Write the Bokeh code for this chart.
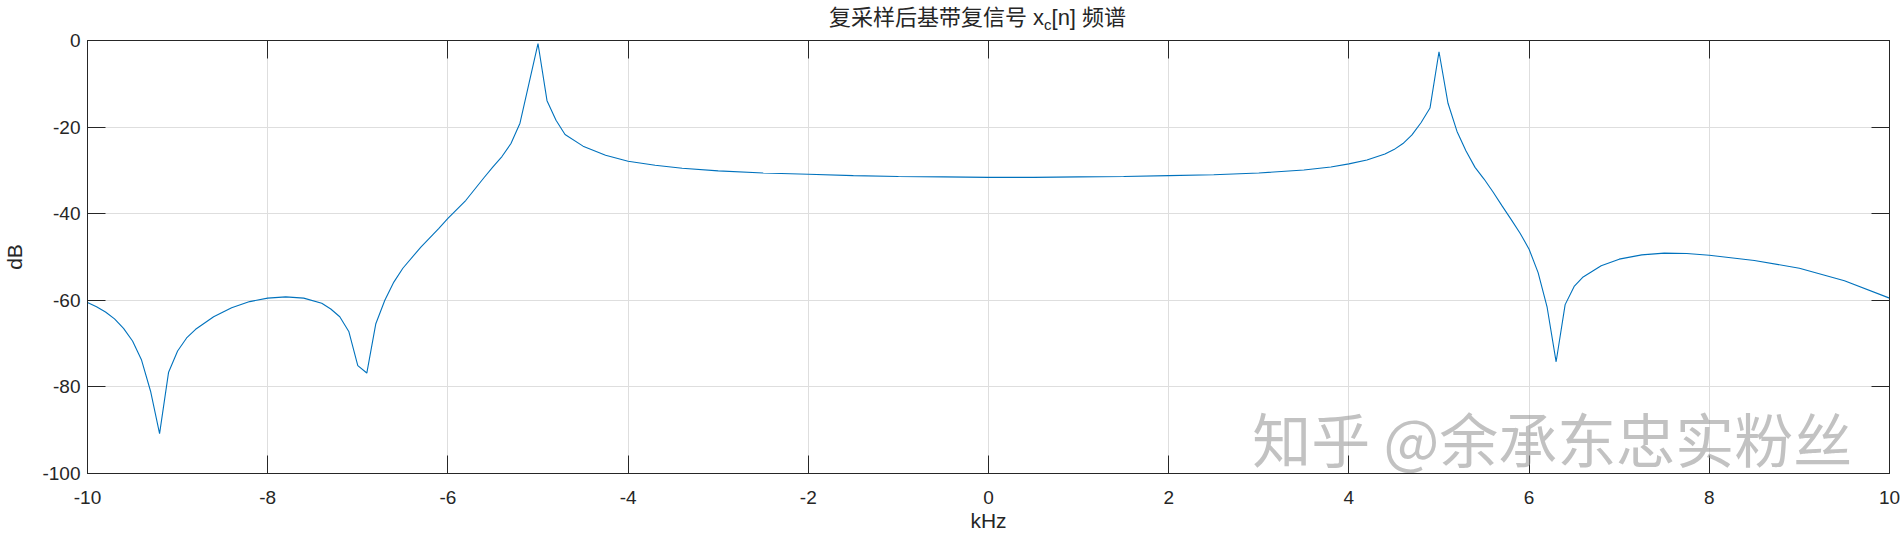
from bokeh.plotting import figure
from bokeh.models import Range1d, LinearAxis, FixedTicker, Label, Div
from bokeh.layouts import column
from bokeh.embed import file_html
from bokeh.resources import INLINE

# ---- data ----
f_khz = [-10.0, -9.9, -9.8, -9.7, -9.6, -9.5, -9.4, -9.3, -9.2, -9.1, -9.0, -8.9, -8.8,
         -8.6, -8.4, -8.2, -8.0, -7.8, -7.6, -7.4, -7.3, -7.2, -7.1, -7.0, -6.9, -6.8,
         -6.7, -6.6, -6.5, -6.3, -6.1, -6.0, -5.8, -5.6, -5.5, -5.4, -5.3, -5.2, -5.1,
         -5.0, -4.9, -4.8, -4.7, -4.5, -4.25, -4.0, -3.7, -3.4, -3.0, -2.5, -2.0, -1.5,
         -1.0, -0.5, 0.0, 0.5, 1.0, 1.5, 2.0, 2.5, 3.0, 3.5, 3.8, 4.0, 4.2, 4.4, 4.5,
         4.6, 4.7, 4.8, 4.9, 5.0, 5.1, 5.2, 5.3, 5.4, 5.5, 5.6, 5.7, 5.8, 5.9, 6.0,
         6.1, 6.2, 6.3, 6.4, 6.5, 6.6, 6.8, 7.0, 7.25, 7.5, 7.75, 8.0, 8.5, 9.0, 9.5, 10.0]
mag_db = [-60.5, -61.5, -62.7, -64.3, -66.5, -69.4, -73.8, -81.0, -90.8, -76.6, -71.7, -68.7, -66.7,
          -63.8, -61.7, -60.3, -59.5, -59.2, -59.5, -60.7, -62.0, -63.8, -67.2, -75.1, -76.8, -65.4,
          -60.0, -55.8, -52.6, -47.7, -43.4, -41.1, -36.9, -31.7, -29.2, -26.8, -23.8, -19.1, -9.9,
          -0.7, -13.9, -18.4, -21.7, -24.4, -26.5, -27.9, -28.8, -29.5, -30.1, -30.6, -30.9, -31.2,
          -31.4, -31.5, -31.6, -31.6, -31.5, -31.4, -31.2, -31.0, -30.6, -29.9, -29.2, -28.5, -27.6, -26.2, -25.2,
          -23.8, -21.8, -19.0, -15.6, -2.6, -14.5, -21.0, -25.5, -29.3, -32.0, -35.0, -38.2, -41.3, -44.5, -48.2,
          -53.6, -61.6, -74.2, -61.0, -56.8, -54.6, -52.0, -50.5, -49.5, -49.1, -49.2, -49.6, -50.8, -52.6, -55.5, -59.5]

x_ticks = [-10, -8, -6, -4, -2, 0, 2, 4, 6, 8, 10]
x_tick_labels = ["-10", "-8", "-6", "-4", "-2", "0", "2", "4", "6", "8", "10"]
y_ticks = [-100, -80, -60, -40, -20, 0]
y_tick_labels = ["-100", "-80", "-60", "-40", "-20", "0"]

title_cn = "复采样后基带复信号"
title_var = "x"
title_sub = "c"
title_idx = "[n]"
title_tail = "频谱"
x_label = "kHz"
y_label = "dB"
watermark = "知乎  @余承东忠实粉丝"

AX = "#262626"
LATIN = "Liberation Sans"
CJK = "Noto Sans CJK SC"

title_html = (
    f'<div style="position:relative; top:0px; width:1819px; margin-left:68px; text-align:center; '
    f'font-size:22px; line-height:30px; color:{AX}; white-space:nowrap;">'
    f'<span style="font-family:\'{CJK}\';">{title_cn}</span> '
    f'<span style="font-family:\'{LATIN}\';">{title_var}<span style="font-size:15px; position:relative; top:5px;">{title_sub}</span>{title_idx}</span> '
    f'<span style="font-family:\'{CJK}\';">{title_tail}</span></div>'
)
title_div = Div(text=title_html, width=1903, height=30, margin=(0, 0, 0, 0))

p = figure(width=1903, height=505,
           x_range=Range1d(-10, 10), y_range=Range1d(-100, 0),
           output_backend="svg", toolbar_location=None,
           min_border_left=82, min_border_right=14, min_border_top=10, min_border_bottom=62,
           background_fill_color="white", border_fill_color="white", margin=(0, 0, 0, 0))
p.outline_line_color = AX
p.outline_line_width = 1


def style(ax, ticks, labels, show):
    ax.ticker = FixedTicker(ticks=ticks)
    ax.major_tick_in = 18
    ax.major_tick_out = 0
    ax.minor_tick_line_color = None
    ax.axis_line_color = AX
    ax.axis_line_width = 1
    ax.major_tick_line_color = AX
    ax.major_tick_line_width = 1
    if show:
        ax.major_label_overrides = {t: l for t, l in zip(ticks, labels)}
        ax.major_label_text_font = LATIN
        ax.major_label_text_font_size = "19px"
        ax.major_label_text_color = AX
        ax.axis_label_text_font = LATIN
        ax.axis_label_text_font_size = "21px"
        ax.axis_label_text_font_style = "normal"
        ax.axis_label_text_color = AX
    else:
        ax.major_label_overrides = {t: "" for t in ticks}
        ax.major_label_text_font_size = "0px"
        ax.major_label_standoff = 0


style(p.xaxis[0], x_ticks, x_tick_labels, True)
p.xaxis[0].major_label_standoff = 17
p.xaxis[0].axis_label = x_label
p.xaxis[0].axis_label_standoff = 2
style(p.yaxis[0], y_ticks, y_tick_labels, True)
p.yaxis[0].major_label_standoff = 7
p.yaxis[0].axis_label = y_label
p.yaxis[0].axis_label_standoff = 13

top_ax = LinearAxis()
style(top_ax, x_ticks, x_tick_labels, False)
p.add_layout(top_ax, "above")
right_ax = LinearAxis()
style(right_ax, y_ticks, y_tick_labels, False)
p.add_layout(right_ax, "right")

p.xgrid.ticker = FixedTicker(ticks=x_ticks)
p.ygrid.ticker = FixedTicker(ticks=y_ticks)
for g in (p.xgrid, p.ygrid):
    g.grid_line_color = "#dedede"
    g.grid_line_width = 1

p.line(f_khz, mag_db, line_color="#0072BD", line_width=1.1)

# watermark (kept inside the frame)
p.add_layout(Label(x=10, y=-100, x_offset=-24, y_offset=-6, text=watermark,
                   text_align="right", text_baseline="bottom",
                   text_font=CJK, text_font_size="59px", text_color="#9a9a9a", text_alpha=0.6))

layout = column(title_div, p, spacing=0)
open("out.html", "w").write(file_html(layout, INLINE))
